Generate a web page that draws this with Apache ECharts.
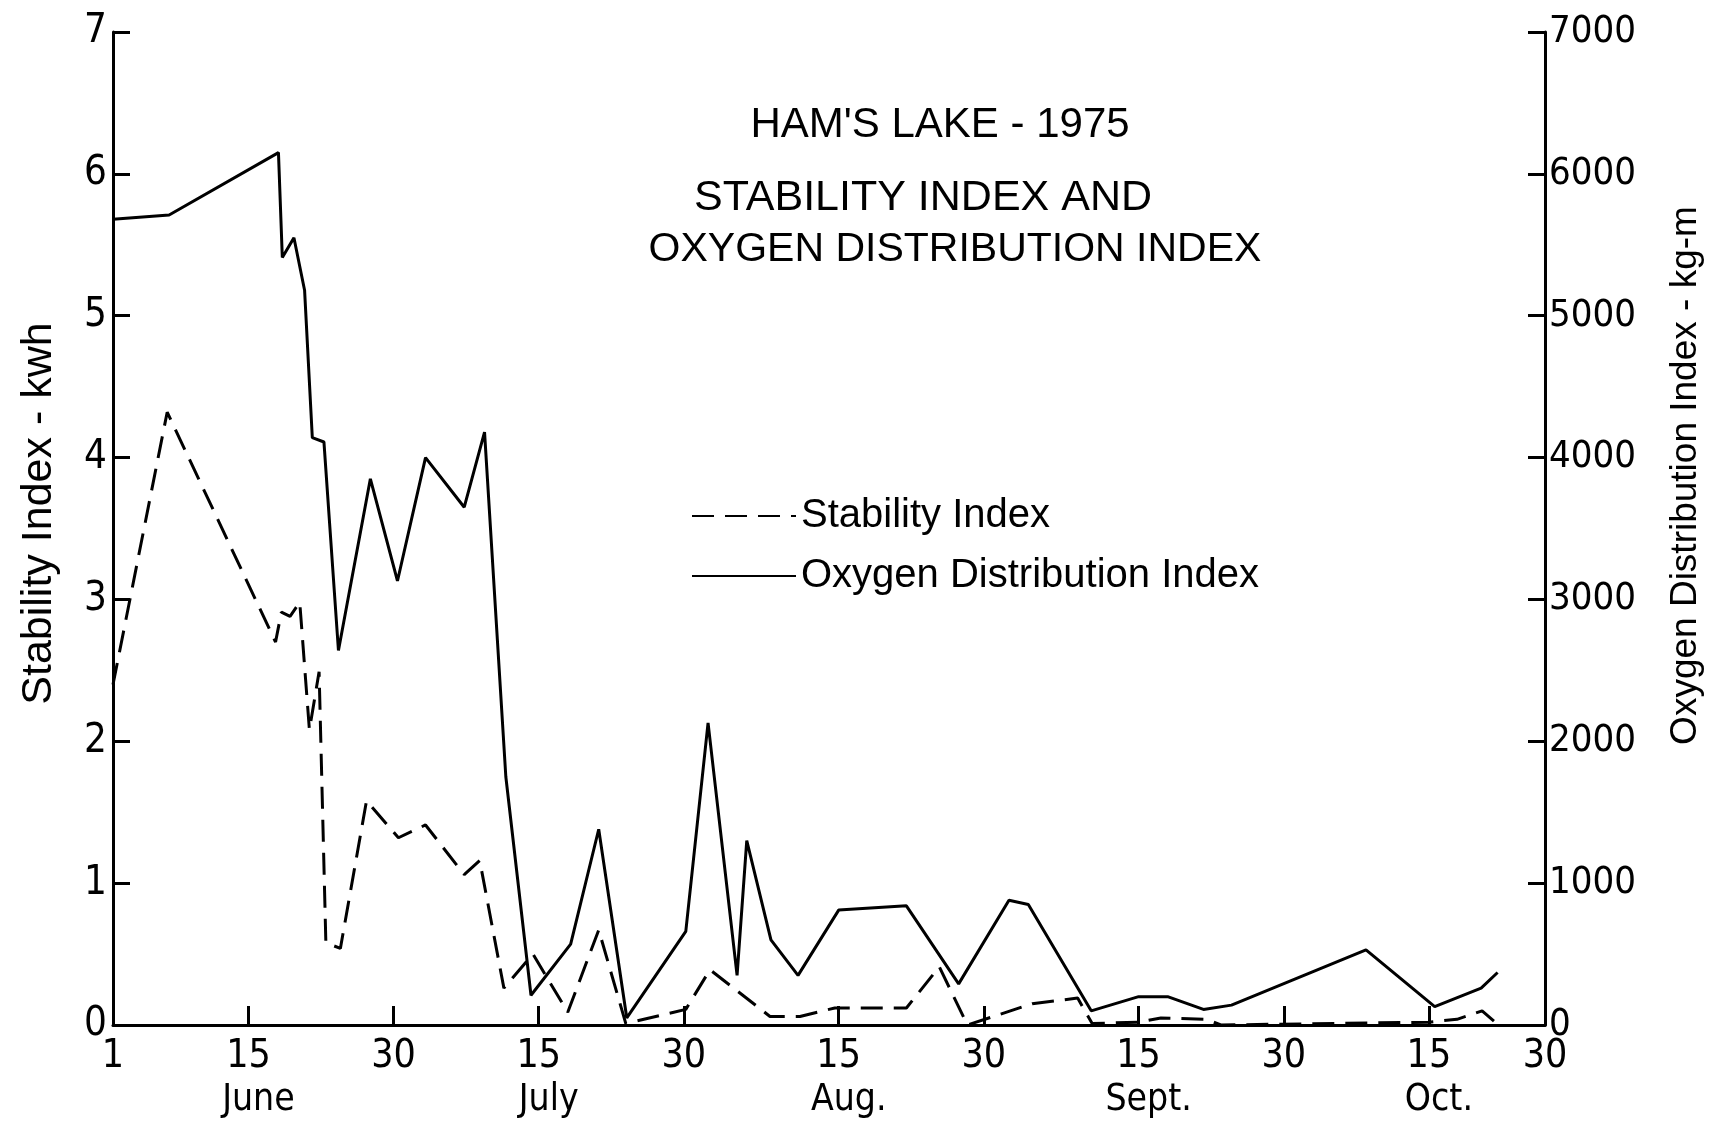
<!DOCTYPE html>
<html><head><meta charset="utf-8">
<script src="https://cdn.jsdelivr.net/npm/echarts@6/dist/echarts.min.js"></script>
<style>html,body{margin:0;padding:0;background:#fff}#c{width:1712px;height:1127px}</style>
</head><body><div id="c"></div>
<script>
// x values: days since June 1, 1975
const oxygenDays = [0, 5.8, 17.1, 17.5, 18.7, 19.8, 20.6, 21.8, 23.3, 26.6, 29.4, 32.3, 36.3, 38.4, 40.6, 43.2, 47.3, 50.2, 53.1, 59.2, 61.5, 64.5, 65.5, 68.0, 70.8, 75.0, 82.0, 87.4, 92.6, 94.6, 101.1, 106.0, 109.0, 112.7, 115.6, 129.5, 136.6, 141.4, 143.1];
const oxygenValues = [5680, 5710, 6150, 5410, 5550, 5180, 4140, 4110, 2640, 3850, 3130, 4000, 3650, 4180, 1750, 210, 570, 1380, 50, 660, 2130, 350, 1300, 600, 350, 810, 840, 290, 880, 850, 100, 200, 200, 110, 140, 530, 130, 260, 370];
const stabilityDays = [0, 5.6, 16.8, 17.4, 18.3, 19.3, 20.3, 21.3, 22.0, 23.5, 26.2, 29.5, 32.3, 36.3, 37.9, 40.4, 43.4, 47.0, 50.2, 53.0, 59.2, 61.7, 67.9, 71.0, 74.6, 82.0, 85.4, 88.3, 95.0, 99.7, 101.2, 106.0, 108.3, 113.0, 114.5, 136.0, 138.9, 141.5, 143.2];
const stabilityValues = [2.40, 4.32, 2.70, 2.91, 2.88, 2.98, 2.08, 2.49, 0.58, 0.54, 1.58, 1.32, 1.41, 1.06, 1.16, 0.26, 0.50, 0.09, 0.67, 0.01, 0.11, 0.39, 0.06, 0.06, 0.12, 0.12, 0.41, 0.00, 0.15, 0.19, 0.01, 0.02, 0.05, 0.04, 0.00, 0.02, 0.04, 0.10, 0.00];
const tickDays = [0, 14, 29, 44, 59, 75, 90, 106, 121, 136, 148];
const tickLabels = ['1', '15', '30', '15', '30', '15', '30', '15', '30', '15', '30'];
const monthLabels = ['', 'June', '', 'July', '', 'Aug.', '', 'Sept.', '', 'Oct.', ''];
const titleLines = ["HAM'S LAKE - 1975", 'STABILITY INDEX AND', 'OXYGEN DISTRIBUTION INDEX'];

const NARROW = "'Liberation Sans Narrow', 'DejaVu Sans Condensed', 'Liberation Sans', sans-serif";
const SANS = "'Liberation Sans', 'DejaVu Sans', sans-serif";
const BLACK = '#000';
const TICK_UNITS = 0.134; // x-axis tick mark length, in left-axis units (about 19 px)

const chart = echarts.init(document.getElementById('c'), null, {renderer: 'canvas'});
const titlePos = [[940, 104], [923, 177], [955, 229]];
const titleSizes = [42, 43, 41];
const option = {
  backgroundColor: '#fff',
  animation: false,
  color: [BLACK, BLACK],
  title: titleLines.map((t, i) => ({
    text: t, left: titlePos[i][0], top: titlePos[i][1], textAlign: 'center', padding: 0,
    textStyle: {fontSize: titleSizes[i], fontWeight: 'normal', fontFamily: SANS, color: BLACK}
  })),
  legend: {
    orient: 'vertical', left: 686, top: 491, itemWidth: 104, itemHeight: 20, itemGap: 20,
    data: ['Stability Index', 'Oxygen Distribution Index'],
    itemStyle: {opacity: 0, color: 'transparent', borderWidth: 0},
    textStyle: {fontSize: 40, fontFamily: SANS, color: BLACK, lineHeight: 40}
  },
  grid: {left: 113, right: 167, top: 32, bottom: 102},
  xAxis: {
    type: 'value', min: 0, max: 148,
    axisLine: {lineStyle: {color: BLACK, width: 3}},
    axisTick: {show: true, customValues: tickDays, inside: true, length: 19, lineStyle: {color: BLACK, width: 3}},
    splitLine: {show: false},
    axisLabel: {
      customValues: tickDays, margin: 12, color: BLACK,
      formatter: function (v) {
        const i = tickDays.indexOf(v);
        if (i < 0) return '';
        return monthLabels[i] ? '{n|' + tickLabels[i] + '}\n{m|' + monthLabels[i] + '}' : '{n|' + tickLabels[i] + '}';
      },
      rich: {
        n: {fontSize: 39, fontFamily: NARROW, color: BLACK, lineHeight: 40},
        m: {fontSize: 37, fontFamily: NARROW, color: BLACK, lineHeight: 46, padding: [0, 0, 0, 20]}
      }
    }
  },
  yAxis: [{
    type: 'value', position: 'left', min: 0, max: 7, interval: 1,
    name: 'Stability Index - kwh', nameLocation: 'middle', nameGap: 52, nameRotate: 90,
    nameTextStyle: {fontSize: 43, fontFamily: SANS, color: BLACK, padding: [0, 0, 0, 30]},
    axisLine: {show: true, lineStyle: {color: BLACK, width: 3}},
    axisTick: {show: true, inside: true, length: 17, lineStyle: {color: BLACK, width: 3}},
    axisLabel: {fontSize: 40, fontFamily: NARROW, color: BLACK, margin: 6},
    splitLine: {show: false}
  }, {
    type: 'value', position: 'right', min: 0, max: 7000, interval: 1000,
    name: 'Oxygen Distribution Index - kg-m', nameLocation: 'middle', nameGap: 122, nameRotate: 90,
    nameTextStyle: {fontSize: 37, fontFamily: SANS, color: BLACK, padding: [0, 0, 0, 106]},
    axisLine: {show: true, lineStyle: {color: BLACK, width: 3}},
    axisTick: {show: true, inside: true, length: 17, lineStyle: {color: BLACK, width: 3}},
    axisLabel: {fontSize: 38, fontFamily: NARROW, color: BLACK, margin: 4, formatter: function (v) { return String(v); }},
    splitLine: {show: false}
  }],
  series: [{
    name: 'Stability Index', type: 'line', yAxisIndex: 0, symbol: 'none',
    data: stabilityDays.map((d, i) => [d, stabilityValues[i]]),
    lineStyle: {color: BLACK, width: 3, type: [22, 11]},
    itemStyle: {color: BLACK},
    markLine: {
      silent: true, symbol: ['none', 'none'], animation: false,
      label: {show: false},
      lineStyle: {color: BLACK, width: 3, type: 'solid'},
      data: tickDays.slice(1, -1).map(d => [{coord: [d, 0]}, {coord: [d, TICK_UNITS]}])
    }
  }, {
    name: 'Oxygen Distribution Index', type: 'line', yAxisIndex: 1, symbol: 'none',
    data: oxygenDays.map((d, i) => [d, oxygenValues[i]]),
    lineStyle: {color: BLACK, width: 3, type: 'solid'},
    itemStyle: {color: BLACK}
  }]
};
chart.setOption(option);
</script>
</body></html>
